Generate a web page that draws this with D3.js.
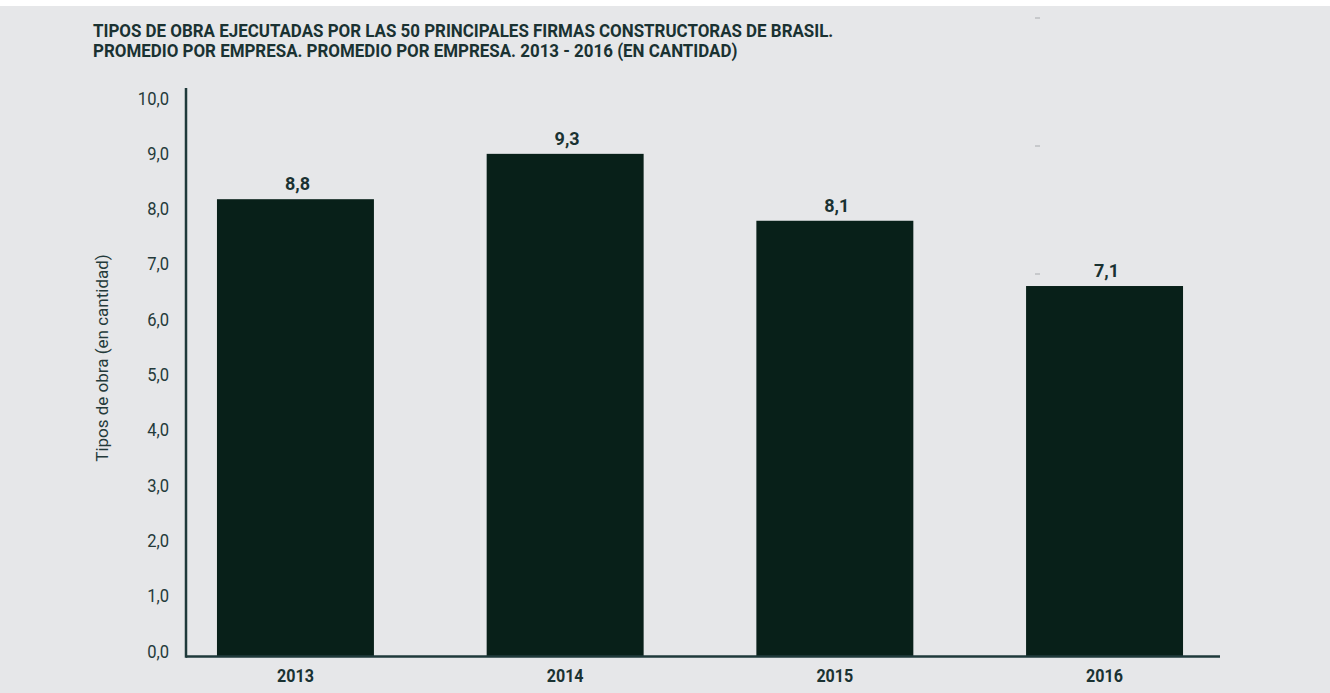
<!DOCTYPE html>
<html>
<head>
<meta charset="utf-8">
<script src="https://cdn.jsdelivr.net/npm/d3@7"></script>
<style>
  body { margin: 0; background: #fff; }
  svg { display: block; }
  text { font-family: "Roboto", "Liberation Sans", sans-serif; }
  .tick-label { font-size: 18px; fill: #243a3a; }
  .axis-title { font-size: 17px; fill: #243a3a; }
  .title { font-weight: bold; font-size: 18.5px; fill: #1a3232; }
  .bar-label { font-weight: bold; font-size: 18px; fill: #1a3232; }
  .year { font-weight: bold; font-size: 18.5px; fill: #1a3232; }
</style>
</head>
<body>
<div id="main"></div>
<script>
var years = ["2013", "2014", "2015", "2016"];
// bar heights as drawn in the picture
var values = [8.17, 8.99, 7.78, 6.6];
// labels printed above the bars
var labels = ["8,8", "9,3", "8,1", "7,1"];
var yTicks = [0, 1, 2, 3, 4, 5, 6, 7, 8, 9, 10];
var titleLines = ["TIPOS DE OBRA EJECUTADAS POR LAS 50 PRINCIPALES FIRMAS CONSTRUCTORAS DE BRASIL.",
  "PROMEDIO POR EMPRESA. PROMEDIO POR EMPRESA. 2013 - 2016 (EN CANTIDAD)"];
var yTitle = "Tipos de obra (en cantidad)";

var w = 1330;
var h = 693;
var axisLeft = 186, axisRight = 1220, axisBottom = 656.5, axisTop = 88;
var fmt = function (d) { return d.toFixed(1).replace(".", ","); };

var svg = d3.select("#main").append("svg").
  attr("width", w).
  attr("height", h);

svg.append("rect").
  attr("x", 0).attr("y", 6).
  attr("width", w).attr("height", h - 6).
  attr("fill", "#e6e7e9");

// faint stray dashes at the right of the original
svg.selectAll("line.dash").
  data([18, 146, 274]).
  enter().append("line").
  attr("class", "dash").
  attr("x1", 1035).attr("x2", 1040).
  attr("y1", function (d) { return d; }).attr("y2", function (d) { return d; }).
  attr("stroke", "#a8abae").attr("stroke-width", 1);

var title = svg.append("text").
  attr("class", "title").
  attr("transform", "translate(93,37) scale(0.915,1)");
title.selectAll("tspan").
  data(titleLines).
  enter().append("tspan").
  attr("x", 0).
  attr("y", function (d, i) { return i * 20.5; }).
  text(function (d) { return d; });

var y = d3.scaleLinear().
  domain([0, 10]).
  range([651, 98]);

var x = d3.scaleBand().
  domain(years).
  range([160.6, 1239.4]).
  paddingInner(0.418).
  paddingOuter(0.209);

svg.selectAll("rect.bar").
  data(values).
  enter().append("rect").
  attr("class", "bar").
  attr("x", function (d, i) { return x(years[i]); }).
  attr("y", function (d) { return y(d); }).
  attr("width", x.bandwidth()).
  attr("height", function (d) { return axisBottom - y(d); }).
  attr("fill", "#082019");

svg.selectAll("text.bar-label").
  data(labels).
  enter().append("text").
  attr("class", "bar-label").
  attr("x", function (d, i) { return x(years[i]) + x.bandwidth() / 2 + 2; }).
  attr("y", function (d, i) { return y(values[i]) - 9; }).
  attr("text-anchor", "middle").
  text(function (d) { return d; });

// axes
svg.append("line").
  attr("x1", axisLeft).attr("x2", axisLeft).
  attr("y1", axisTop).attr("y2", axisBottom + 1.25).
  attr("stroke", "#1f3a3b").attr("stroke-width", 2.5);
svg.append("line").
  attr("x1", axisLeft).attr("x2", axisRight).
  attr("y1", axisBottom).attr("y2", axisBottom).
  attr("stroke", "#1f3a3b").attr("stroke-width", 2.5);

svg.selectAll("text.tick-label").
  data(yTicks).
  enter().append("text").
  attr("class", "tick-label").
  attr("transform", function (d) { return "translate(169," + (y(d) + 6.5) + ") scale(0.92,1)"; }).
  attr("text-anchor", "end").
  text(fmt);

svg.selectAll("text.year").
  data(years).
  enter().append("text").
  attr("class", "year").
  attr("transform", function (d) { return "translate(" + (x(d) + x.bandwidth() / 2) + ",682) scale(0.87,1)"; }).
  attr("text-anchor", "middle").
  text(function (d) { return d; });

svg.append("text").
  attr("class", "axis-title").
  attr("transform", "translate(108,358) rotate(-90)").
  attr("text-anchor", "middle").
  text(yTitle);
</script>
</body>
</html>
